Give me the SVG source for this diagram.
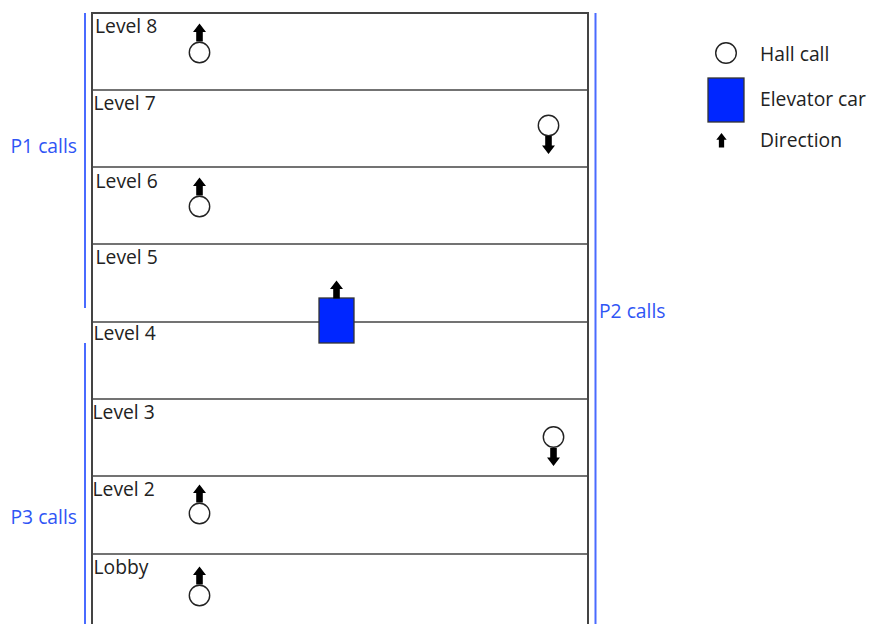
<svg xmlns="http://www.w3.org/2000/svg" xmlns:xlink="http://www.w3.org/1999/xlink" width="870" height="624" viewBox="0 0 870 624">
<style>
.wall{stroke:#444;stroke-width:2;fill:none}
.floor{stroke:#444;stroke-width:1.4}
.pline{stroke:#4a6bff;stroke-width:2}
.lbl{font-family:"Open Sans","Liberation Sans",sans-serif;font-size:19.3px;fill:#222}
.plbl{font-family:"Open Sans","Liberation Sans",sans-serif;font-size:19.3px;fill:#2f55f5}
.call{fill:#fff;stroke:#222;stroke-width:1.4}
.car{fill:#0026ff;stroke:#333;stroke-width:1.3}
.arr{fill:#000}
</style>
<defs>
<path id="up" class="arr" d="M0,0 L6.5,8.5 L3.3,8.5 L3.3,18 L-3.3,18 L-3.3,8.5 L-6.5,8.5 Z"/>
</defs>
<rect width="870" height="624" fill="#fff"/>
<g id="building">
<path class="wall" d="M92,624 V13 H588 V624"/>
<line class="floor" x1="92" y1="90" x2="588" y2="90"/>
<line class="floor" x1="92" y1="167" x2="588" y2="167"/>
<line class="floor" x1="92" y1="244" x2="588" y2="244"/>
<line class="floor" x1="92" y1="322" x2="588" y2="322"/>
<line class="floor" x1="92" y1="399" x2="588" y2="399"/>
<line class="floor" x1="92" y1="476" x2="588" y2="476"/>
<line class="floor" x1="92" y1="554" x2="588" y2="554"/>
</g>
<g id="level-labels">
<text class="lbl" x="95" y="32.5">Level 8</text>
<text class="lbl" x="93.5" y="109.5">Level 7</text>
<text class="lbl" x="95.5" y="187.5">Level 6</text>
<text class="lbl" x="95.5" y="263.5">Level 5</text>
<text class="lbl" x="93.5" y="340">Level 4</text>
<text class="lbl" x="92.5" y="418.5">Level 3</text>
<text class="lbl" x="92.5" y="496">Level 2</text>
<text class="lbl" x="93.5" y="574">Lobby</text>
</g>
<g id="call-l8"><circle class="call" cx="199.5" cy="52.5" r="10.2"/><use href="#up" xlink:href="#up" x="199.5" y="23.5"/></g>
<g id="call-l7"><circle class="call" cx="548.5" cy="125.5" r="10.2"/><use href="#up" xlink:href="#up" transform="translate(548.5,154) scale(1,-1)"/></g>
<g id="call-l6"><circle class="call" cx="199.5" cy="206.5" r="10.2"/><use href="#up" xlink:href="#up" x="199.5" y="177.5"/></g>
<g id="call-l3"><circle class="call" cx="553.5" cy="437" r="10.2"/><use href="#up" xlink:href="#up" transform="translate(553.5,466) scale(1,-1)"/></g>
<g id="call-l2"><circle class="call" cx="199.5" cy="513.5" r="10.2"/><use href="#up" xlink:href="#up" x="199.5" y="484.5"/></g>
<g id="call-lobby"><circle class="call" cx="199.5" cy="595.5" r="10.2"/><use href="#up" xlink:href="#up" x="199.5" y="566.5"/></g>
<g id="car"><rect class="car" x="319" y="298" width="35" height="45"/><use href="#up" xlink:href="#up" x="336.5" y="280.5"/></g>
<g id="connectors">
<line class="pline" x1="85" y1="13" x2="85" y2="308"/>
<line class="pline" x1="85" y1="343" x2="85" y2="624"/>
<line class="pline" x1="595.5" y1="13" x2="595.5" y2="624"/>
</g>
<g id="p1"><text class="plbl" x="10.5" y="152.5">P1 calls</text></g>
<g id="p2"><text class="plbl" x="599" y="317.5">P2 calls</text></g>
<g id="p3"><text class="plbl" x="10.5" y="523.5">P3 calls</text></g>
<g id="legend">
<circle class="call" cx="726" cy="53" r="10.3"/>
<text class="lbl" x="760" y="61">Hall call</text>
<rect class="car" x="708" y="78" width="36" height="44"/>
<text class="lbl" x="760" y="106">Elevator car</text>
<use href="#up" xlink:href="#up" transform="translate(721.5,133) scale(0.8)"/>
<text class="lbl" x="760" y="147">Direction</text>
</g>
</svg>
